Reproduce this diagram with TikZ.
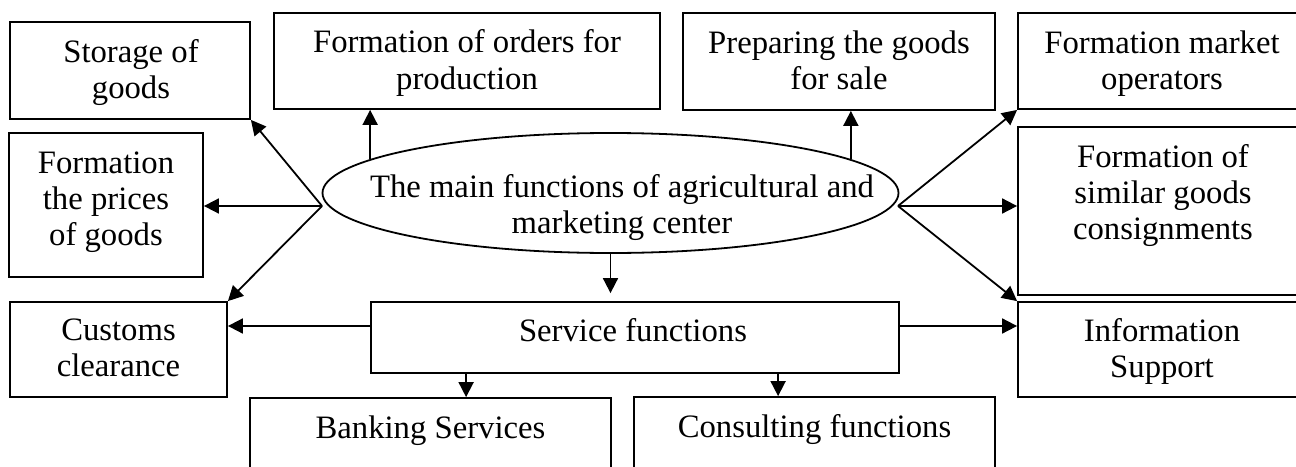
\documentclass[tikz,border=0pt]{standalone}
\usepackage{fontspec}
\setmainfont{Liberation Serif}
\usetikzlibrary{fit,shapes.geometric,arrows.meta,calc}
\begin{document}
\begin{tikzpicture}[x=0.5pt,y=-0.5pt,
  txt/.style={font=\fontsize{16.35}{18}\selectfont, align=center, inner sep=0pt},
  box/.style={draw, line width=0.9pt, inner sep=0pt},
  arr/.style={line width=0.9pt, -{Triangle[length=7.5pt,width=7.5pt]}},
]
\useasboundingbox (0,0) rectangle (1296,466);
\clip (0,0) rectangle (1296,466);

% boxes
\node[box, fit={(10,22) (250,119)}] (storage) {};
\node[box, fit={(274,13) (660,109)}] (orders) {};
\node[box, fit={(683,13) (995,110)}] (prep) {};
\node[box, fit={(1018,13) (1305,109)}] (market) {};
\node[box, fit={(9,133) (203,277)}] (prices) {};
\node[box, fit={(1018,127) (1305,295)}] (similar) {};
\node[box, fit={(10,302) (227,397)}] (customs) {};
\node[box, fit={(371,302) (899,373)}] (service) {};
\node[box, fit={(1018,302) (1305,397)}] (info) {};
\node[box, fit={(250,398) (611,480)}] (banking) {};
\node[box, fit={(634,397) (995,480)}] (consult) {};
\node[draw, ellipse, line width=0.9pt, minimum width=288pt, minimum height=60pt, inner sep=0pt] (ell) at (610.5,193) {};

% texts
\node[txt] (storage-t) at (131,73.3) {\strut Storage of\\\strut goods};
\node[txt] (orders-t) at (467,63.8) {\strut Formation of orders for\\\strut production};
\node[txt] (prep-t) at (839,64) {\strut Preparing the goods\\\strut for sale};
\node[txt] (market-t) at (1162,64) {\strut Formation market\\\strut operators};
\node[txt] (prices-t) at (106,202.3) {\strut Formation\\\strut the prices\\\strut of goods};
\node[txt] (similar-t) at (1163,196) {\strut Formation of\\\strut similar goods\\\strut consignments};
\node[txt] (customs-t) at (118.5,351.3) {\strut Customs\\\strut clearance};
\node[txt] (service-t) at (633,333.8) {\strut Service functions};
\node[txt] (info-t) at (1162,352) {\strut Information\\\strut Support};
\node[txt] (banking-t) at (430.5,430.8) {\strut Banking Services};
\node[txt] (consult-t) at (814.5,430) {\strut Consulting functions};
\node[txt] (ell-t) at (622,207.8) {\strut The main functions of agricultural and\\\strut marketing center};

% connectors
\coordinate (L) at (322,206);
\coordinate (R) at (898,206);
\coordinate (sl) at ($(service.west)+(0,-11.5)$);
\coordinate (sr) at ($(service.east)+(0,-11.5)$);
\coordinate (sb) at ($(service.south west)+(96,0)$);
\coordinate (sc) at ($(service.south west)+(408,0)$);

\draw[arr] (L) -- (storage.south east);
\draw[arr] (L) -- (L -| prices.east);
\draw[arr] (L) -- (customs.north east);
\draw[arr] (R) -- (market.south west);
\draw[arr] (R) -- (R -| similar.west);
\draw[arr] (R) -- (info.north west);
\draw[arr] (ell.172) -- (ell.172 |- orders.south);
\draw[arr] (ell.8) -- (ell.8 |- prep.south);
\draw[arr, shorten >=4pt] (ell.south) -- (ell.south |- service.north);
\draw[arr] (sl) -- (sl -| customs.east);
\draw[arr] (sr) -- (sr -| info.west);
\draw[arr] (sb) -- (sb |- banking.north);
\draw[arr] (sc) -- (sc |- consult.north);
\end{tikzpicture}
\end{document}
